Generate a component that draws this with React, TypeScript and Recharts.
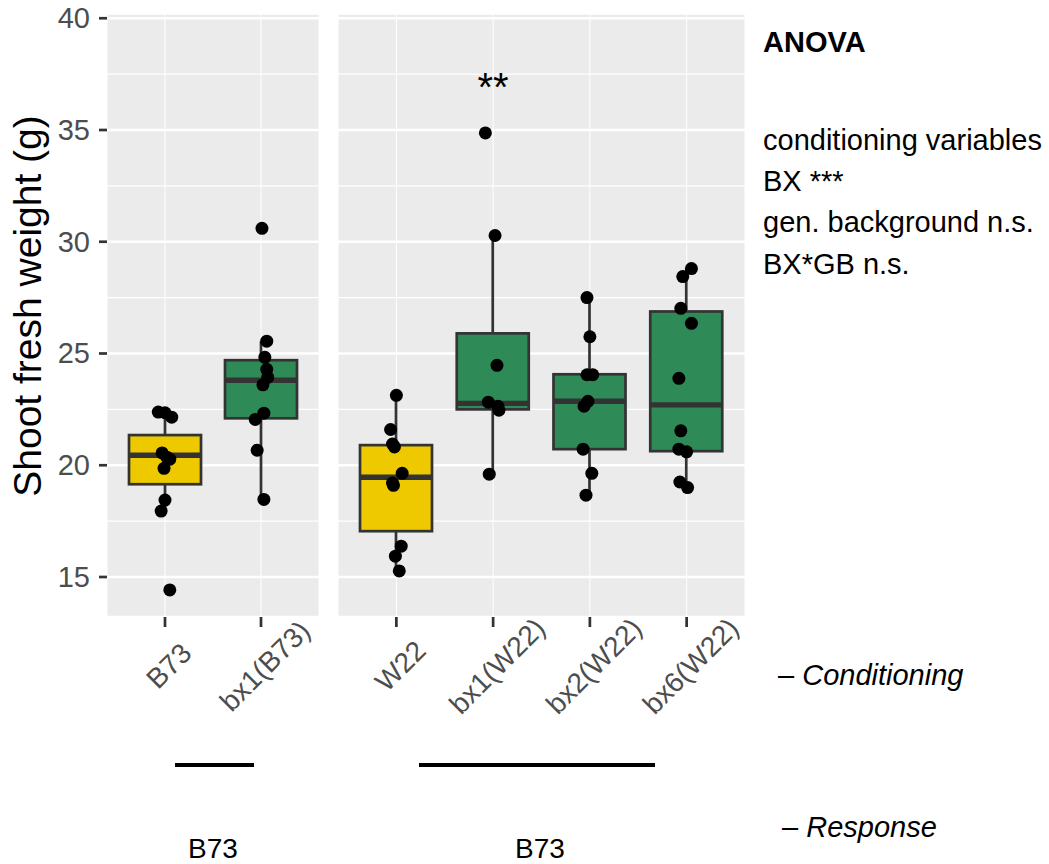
import React from 'react'
import { ComposedChart, Bar, Scatter, XAxis, YAxis, CartesianGrid } from 'recharts'

const FONT = '"Liberation Sans", Arial, Helvetica, sans-serif'
const GOLD = '#EEC900'
const GREEN = '#2E8B57'
const INK = '#333333'

const yDomain = [13.21, 40.19]
const yTicks = [15, 17.5, 20, 22.5, 25, 27.5, 30, 32.5, 35, 37.5, 40]

// left facet: B73 background
const leftCats = ['B73', 'bx1(B73)']
const leftFill = [GOLD, GREEN]
const leftQ1 = [19.15, 22.1]
const leftMed = [20.45, 23.8]
const leftQ3 = [21.35, 24.7]
const leftLo = [17.95, 18.47]
const leftHi = [22.38, 25.55]
const leftPts = [
  [22.38, 22.35, 22.15, 20.55, 20.36, 20.27, 19.86, 18.44, 17.95, 14.42],
  [30.6, 25.55, 24.83, 24.29, 23.93, 23.6, 22.33, 22.05, 20.67, 18.47],
]
const leftJit = [
  [-0.07, 0.0, 0.07, -0.03, 0.02, 0.05, -0.01, 0.0, -0.04, 0.05],
  [0.01, 0.06, 0.04, 0.06, 0.07, 0.02, 0.03, -0.06, -0.04, 0.03],
]

// right facet: W22 background
const rightCats = ['W22', 'bx1(W22)', 'bx2(W22)', 'bx6(W22)']
const rightFill = [GOLD, GREEN, GREEN, GREEN]
const rightQ1 = [17.05, 22.5, 20.72, 20.63]
const rightMed = [19.46, 22.77, 22.86, 22.7]
const rightQ3 = [20.9, 25.9, 24.07, 26.88]
const rightLo = [15.27, 19.6, 18.66, 19.0]
const rightHi = [23.13, 30.28, 27.5, 28.8]
const rightPts = [
  [23.13, 21.6, 20.95, 20.82, 19.64, 19.2, 19.1, 16.38, 15.93, 15.27],
  [34.87, 30.28, 24.47, 22.82, 22.64, 22.46, 19.6],
  [27.5, 25.75, 24.05, 24.05, 22.86, 22.64, 20.72, 19.64, 18.66],
  [28.8, 28.44, 27.02, 26.35, 23.89, 21.54, 20.72, 20.6, 19.25, 19.0],
]
const rightJit = [
  [0.0, -0.06, -0.04, -0.02, 0.06, -0.04, -0.03, 0.05, -0.01, 0.03],
  [-0.08, 0.02, 0.04, -0.05, 0.05, 0.06, -0.04],
  [-0.03, 0.0, -0.03, 0.03, -0.02, -0.06, -0.07, 0.02, -0.04],
  [0.05, -0.04, -0.06, 0.05, -0.08, -0.06, -0.08, 0.0, -0.07, 0.01],
]
const rightStars = [{ x: 2, y: 36.3, text: '**' }]

const anovaLines = ['conditioning variables', 'BX ***', 'gen. background n.s.', 'BX*GB n.s.']
const anovaBaselines = [150, 191, 232, 274]

function buildRows(cats: string[], fill: string[], q1: number[], med: number[], q3: number[], lo: number[], hi: number[]) {
  return cats.map((cat, i) => ({ cat, fill: fill[i], q1: q1[i], med: med[i], q3: q3[i], lo: lo[i], hi: hi[i], range: [q1[i], q3[i]] }))
}

function buildPoints(vals: number[][], jit: number[][]) {
  return vals.flatMap((arr, i) => arr.map((y, j) => ({ x: i + 1 + jit[i][j], y })))
}

function BoxShape(props: any) {
  const { x, y, width, height, payload } = props
  const top = Math.min(y, y + height)
  const h = Math.abs(height)
  const k = h / (payload.q3 - payload.q1)
  const py = (v: number) => top + (payload.q3 - v) * k
  const cx = x + width / 2
  return (
    <g>
      <line x1={cx} x2={cx} y1={py(payload.hi)} y2={py(payload.q3)} stroke={INK} strokeWidth={2.7} />
      <line x1={cx} x2={cx} y1={py(payload.q1)} y2={py(payload.lo)} stroke={INK} strokeWidth={2.7} />
      <rect x={x} y={top} width={width} height={h} fill={payload.fill} stroke={INK} strokeWidth={2.7} />
      <line x1={x} x2={x + width} y1={py(payload.med)} y2={py(payload.med)} stroke={INK} strokeWidth={5.4} />
    </g>
  )
}

const Dot = (p: any) => <circle cx={p.cx} cy={p.cy} r={6.5} fill="#000" />

const Stars = (p: any) => (
  <text x={p.cx} y={p.cy} textAnchor="middle" fontSize={40} fontFamily={FONT} fill="#000">{p.payload.text}</text>
)

function YTick({ x, y, payload }: any) {
  if (payload.value % 5 !== 0) return <g />
  return (
    <g>
      <line x1={x + 9} x2={x + 17} y1={y} y2={y} stroke={INK} strokeWidth={2.7} />
      <text x={x} y={y} textAnchor="end" dominantBaseline="central" fontSize={29} fontFamily={FONT} fill="#4D4D4D">{payload.value}</text>
    </g>
  )
}

function XTick({ x, y, payload }: any) {
  const tx = x + 4
  const ty = y + 49
  return (
    <g>
      <line x1={x} x2={x} y1={y} y2={y + 10} stroke={INK} strokeWidth={2.7} />
      <text x={tx} y={ty} transform={`rotate(-45 ${tx} ${ty})`} textAnchor="middle" dominantBaseline="central" fontSize={28} fontFamily={FONT} fill="#4D4D4D">{payload.value}</text>
    </g>
  )
}

const gridLine = (p: any) => {
  const major = p.index % 2 === 0
  return <line key={p.key} x1={p.x1} x2={p.x2} y1={p.y1} y2={p.y2} stroke="#fff" strokeWidth={major ? 2.6 : 1.4} />
}

interface PanelProps {
  rows: any[]
  points: { x: number; y: number }[]
  width: number
  showY: boolean
  stars?: { x: number; y: number; text: string }[]
}

function Panel({ rows, points, width, showY, stars }: PanelProps) {
  const n = rows.length
  return (
    <ComposedChart width={width} height={740} data={rows} margin={{ top: 14, right: showY ? 1 : 0, bottom: 40, left: 0 }}>
      <CartesianGrid fill="#EBEBEB" horizontal={gridLine} vertical={{ stroke: '#fff', strokeWidth: 2.6 }} stroke="#fff" />
      <XAxis dataKey="cat" type="category" padding={{ left: 10, right: 10 }} height={83} tickSize={0} tickMargin={0}
        tickLine={false} axisLine={false} tick={<XTick />} interval={0} />
      <XAxis xAxisId="n" dataKey="x" type="number" domain={[0.5, n + 0.5]} padding={{ left: 10, right: 10 }} hide />
      <YAxis type="number" domain={yDomain} ticks={yTicks} interval={0} allowDataOverflow hide={!showY}
        width={showY ? 107 : 0} tickSize={8} tickMargin={9} tickLine={false} axisLine={false} tick={<YTick />} />
      <Bar dataKey="range" barSize={72} shape={<BoxShape />} isAnimationActive={false} />
      <Scatter xAxisId="n" data={points} dataKey="y" shape={Dot} isAnimationActive={false} />
      {stars && <Scatter xAxisId="n" data={stars} dataKey="y" shape={Stars} isAnimationActive={false} />}
    </ComposedChart>
  )
}

export default function App() {
  const leftRows = buildRows(leftCats, leftFill, leftQ1, leftMed, leftQ3, leftLo, leftHi)
  const rightRows = buildRows(rightCats, rightFill, rightQ1, rightMed, rightQ3, rightLo, rightHi)
  return (
    <div style={{ position: 'absolute', left: 0, top: 0, width: 1049, height: 864, background: '#fff', fontFamily: FONT }}>
      <div style={{ position: 'absolute', left: 0, top: 0 }}>
        <Panel rows={leftRows} points={buildPoints(leftPts, leftJit)} width={320} showY />
      </div>
      <div style={{ position: 'absolute', left: 338, top: 0 }}>
        <Panel rows={rightRows} points={buildPoints(rightPts, rightJit)} width={407} showY={false} stars={rightStars} />
      </div>
      <svg width={1049} height={864} style={{ position: 'absolute', left: 0, top: 0, pointerEvents: 'none' }} fontFamily={FONT}>
        <text transform="translate(41 306) rotate(-90)" textAnchor="middle" fontSize={39} fill="#000">Shoot fresh weight (g)</text>
        <text x={763} y={52} fontSize={29} fontWeight="bold" fill="#000">ANOVA</text>
        {anovaLines.map((t, i) => (
          <text key={t} x={763} y={anovaBaselines[i]} fontSize={29} fill="#000">{t}</text>
        ))}
        <text x={778} y={685} fontSize={29} fill="#000">– <tspan fontStyle="italic">Conditioning</tspan></text>
        <text x={782} y={837} fontSize={29} fill="#000">– <tspan fontStyle="italic">Response</tspan></text>
        <line x1={175} x2={254} y1={765} y2={765} stroke="#000" strokeWidth={4} />
        <line x1={419} x2={655} y1={765} y2={765} stroke="#000" strokeWidth={4} />
        <text x={213} y={858} textAnchor="middle" fontSize={28} fill="#000">B73</text>
        <text x={540} y={858} textAnchor="middle" fontSize={28} fill="#000">B73</text>
      </svg>
    </div>
  )
}
